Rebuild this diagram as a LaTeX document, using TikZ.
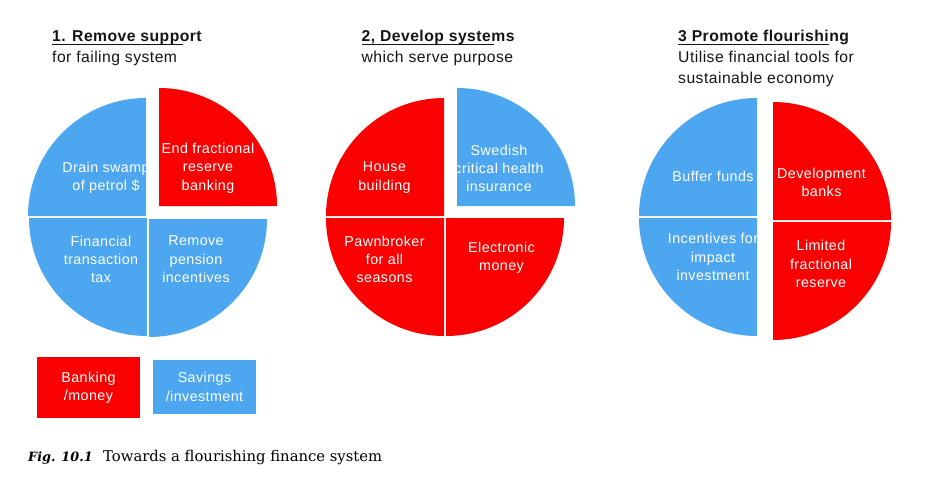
\documentclass[tikz,border=0pt]{standalone}
\usepackage{fontspec}
\setmainfont{Liberation Sans}[LetterSpace=3.0]
\newfontfamily\capfont{DejaVu Serif}
\definecolor{bankred}{RGB}{250,0,0}
\definecolor{saveblue}{RGB}{77,166,240}
\definecolor{ink}{RGB}{20,20,20}

\tikzset{
  bank/.style={fill=bankred},
  save/.style={fill=saveblue},
  inlbl/.style={text=white, align=center, inner sep=0pt,
    font=\fontsize{14.3}{18.3}\selectfont},
  ttl/.style={anchor=base west, inner sep=0pt, text=ink,
    font=\fontsize{15.7}{20}\selectfont\bfseries},
  sub/.style={anchor=base west, inner sep=0pt, text=ink,
    font=\fontsize{15.7}{20}\selectfont},
  keybox/.style={text=white, align=center, inner sep=0pt,
    font=\fontsize{14.3}{18.3}\selectfont},
}

\begin{document}
\begin{tikzpicture}[x=1pt, y=-1pt]
    \useasboundingbox (0,0) rectangle (928,489);

    % 1. remove support
    \node[ttl] (t1) at (52,42) {1. Remove support};
    \draw[ink, line width=1.4pt] ([yshift=-2.4pt]t1.base west) -- ++(131,0);
    \node[sub] (s1) at (52,62.5) {for failing system};
    \fill[save] (146,216) -- (28,216) arc[start angle=180,end angle=270,radius=118] -- cycle;
    \fill[bank] (159,206) -- (277,206) arc[start angle=0,end angle=-90,radius=118] -- cycle;
    \fill[save] (147,218) -- (29,218) arc[start angle=180,end angle=90,radius=118] -- cycle;
    \fill[save] (149,219) -- (267,219) arc[start angle=0,end angle=90,radius=118] -- cycle;
    \node[inlbl] (drain) at (106,177.5) {Drain swamp\\of petrol \$};
    \node[inlbl] (endfr) at (208,168.3) {End fractional\\reserve\\banking};
    \node[inlbl] (fintax) at (101,259.3) {Financial\\transaction\\tax};
    \node[inlbl] (pension) at (196,259.3) {Remove\\pension\\incentives};

    % 2. develop systems
    \node[ttl] (t2) at (361.5,42) {2, Develop systems};
    \draw[ink, line width=1.4pt] ([yshift=-2.4pt]t2.base west) -- ++(132.5,0);
    \node[sub] (s2) at (361.5,62.5) {which serve purpose};
    \fill[bank] (444,216) -- (326,216) arc[start angle=180,end angle=270,radius=118] -- cycle;
    \fill[save] (457,206) -- (575,206) arc[start angle=0,end angle=-90,radius=118] -- cycle;
    \fill[bank] (444,218) -- (326,218) arc[start angle=180,end angle=90,radius=118] -- cycle;
    \fill[bank] (446,218) -- (564,218) arc[start angle=0,end angle=90,radius=118] -- cycle;
    \node[inlbl] (house) at (384.5,177.5) {House\\building};
    \node[inlbl] (swed) at (499,168.3) {Swedish\\critical health\\insurance};
    \node[inlbl] (pawn) at (384.5,259.3) {Pawnbroker\\for all\\seasons};
    \node[inlbl] (emoney) at (501.5,258) {Electronic\\money};

    % 3 promote flourishing
    \node[ttl] (t3) at (678,42) {3 Promote flourishing};
    \draw[ink, line width=1.4pt] ([yshift=-2.4pt]t3.base west) -- ++(151,0);
    \node[sub] (s3) at (678,62.5) {Utilise financial tools for};
    \node[sub] (s3b) at (678,83.2) {sustainable economy};
    \fill[save] (757,216) -- (639,216) arc[start angle=180,end angle=270,radius=118] -- cycle;
    \fill[save] (757,218) -- (639,218) arc[start angle=180,end angle=90,radius=118] -- cycle;
    \fill[bank] (773,220) -- (891,220) arc[start angle=0,end angle=-90,radius=118] -- cycle;
    \fill[bank] (773,222) -- (891,222) arc[start angle=0,end angle=90,radius=118] -- cycle;
    \node[inlbl] (buffer) at (713,176) {Buffer funds};
    \node[inlbl] (devbank) at (821.5,182.5) {Development\\banks};
    \node[inlbl] (impact) at (713,257) {Incentives for\\impact\\investment};
    \node[inlbl] (limfr) at (821,264) {Limited\\fractional\\reserve};

    % key
    \node[keybox, bank, minimum width=103pt, minimum height=61pt] (keybank) at (88.5,387.5) {Banking\\/money};
    \node[keybox, save, minimum width=103pt, minimum height=54pt] (keysave) at (204.5,387) {Savings\\/investment};

    % caption
    \node[anchor=base west, inner sep=0pt, font=\capfont\fontsize{12.8}{16}\selectfont\bfseries\itshape] (fignum) at (28,461) {Fig. 10.1};
    \node[anchor=base west, inner sep=0pt, font=\capfont\fontsize{14.8}{18}\selectfont] (figcap) at (103,461) {Towards a flourishing finance system};
\end{tikzpicture}
\end{document}
